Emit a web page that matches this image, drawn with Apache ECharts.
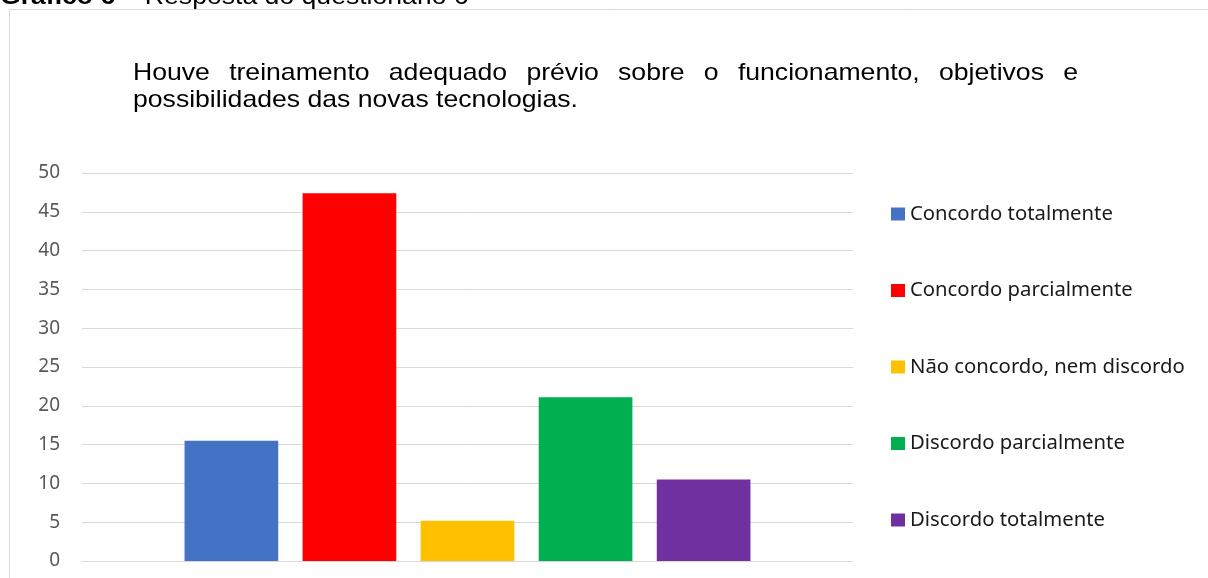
<!DOCTYPE html>
<html>
<head>
<meta charset="utf-8">
<script src="https://cdn.jsdelivr.net/npm/echarts@6/dist/echarts.min.js"></script>
<style>html,body{margin:0;padding:0;background:#fff;}#chart{width:1208px;height:578px;}</style>
</head>
<body>
<div id="chart"></div>
<script>
const categories = [''];
const seriesNames = ['Concordo totalmente', 'Concordo parcialmente', 'Não concordo, nem discordo', 'Discordo parcialmente', 'Discordo totalmente'];
const seriesValues = [15.5, 47.4, 5.2, 21.1, 10.5];
const seriesColors = ['#4472C4', '#FF0000', '#FFC000', '#00B050', '#7030A0'];
const yTicks = {min: 0, max: 50, interval: 5};
const titleLine1 = 'Houve treinamento adequado prévio sobre o funcionamento, objetivos e';
const titleLine2 = 'possibilidades das novas tecnologias.';
const captionBold = 'Gráfico 6';
const captionRest = ' – Resposta do questionário 6';

const chart = echarts.init(document.getElementById('chart'), null, {renderer: 'canvas'});

const titleFont = '24px "Liberation Sans", Arial, sans-serif';
const ctx = document.createElement('canvas').getContext('2d');
ctx.font = titleFont;
const sx = 445 / ctx.measureText(titleLine2).width;
const words = titleLine1.split(' ');
const x0 = 133, x1 = 1078;
const wordsW = words.map(w => ctx.measureText(w).width * sx);
const totalW = wordsW.reduce((a, b) => a + b, 0);
const gap = (x1 - x0 - totalW) / (words.length - 1);
const graphics = [];
let cx = x0;
const base1 = 85, base2 = 112.5;
words.forEach((w, i) => {
  graphics.push({type: 'text', x: cx, y: base1, scaleX: sx, style: {text: w, font: titleFont, fill: '#000', verticalAlign: 'bottom'}, silent: true});
  cx += wordsW[i] + gap;
});
graphics.push({type: 'text', x: x0, y: base2, scaleX: sx, style: {text: titleLine2, font: titleFont, fill: '#000', verticalAlign: 'bottom'}, silent: true});
// frame
graphics.push({type: 'rect', shape: {x: 9.5, y: 9.5, width: 1250, height: 700}, style: {fill: 'none', stroke: '#d9d9d9', lineWidth: 1}, silent: true, z: -1});
// caption (cut at top)
graphics.push({type: 'text', x: 0, y: 9, scaleX: sx, style: {rich: {b: {font: 'bold 24px "Liberation Sans", Arial', fill: '#000'}, r: {font: '24px "Liberation Sans", Arial', fill: '#000'}}, text: '{b|' + captionBold + '}{r|' + captionRest + '}', verticalAlign: 'bottom'}, silent: true});

const series = seriesNames.map((name, i) => ({
  name: name,
  type: 'bar',
  data: [seriesValues[i]],
  itemStyle: {color: seriesColors[i]},
  barGap: '26%',
  barCategoryGap: '26.6%',
  animation: false
}));

chart.setOption({
  animation: false,
  graphic: graphics,
  legend: {
    orient: 'vertical',
    left: 891,
    top: 204,
    padding: 0,
    itemWidth: 14,
    itemHeight: 13,
    itemGap: 56.5,
    icon: 'rect',
    textStyle: {fontFamily: '"Noto Sans", sans-serif', fontSize: 20.3, color: '#1a1a1a', lineHeight: 20},
    data: seriesNames
  },
  grid: {left: 82, right: 355, top: 173, bottom: 17, containLabel: false},
  xAxis: {
    type: 'category',
    data: categories,
    axisLine: {show: true, lineStyle: {color: '#d9d9d9', width: 1}},
    axisTick: {show: false},
    axisLabel: {show: false}
  },
  yAxis: {
    type: 'value',
    min: yTicks.min,
    max: yTicks.max,
    interval: yTicks.interval,
    axisLine: {show: false},
    axisTick: {show: false},
    axisLabel: {color: '#595959', fontFamily: '"Noto Sans", sans-serif', fontSize: 19, margin: 22},
    splitLine: {lineStyle: {color: '#d9d9d9', width: 1}}
  },
  series: series
});
</script>
</body>
</html>
